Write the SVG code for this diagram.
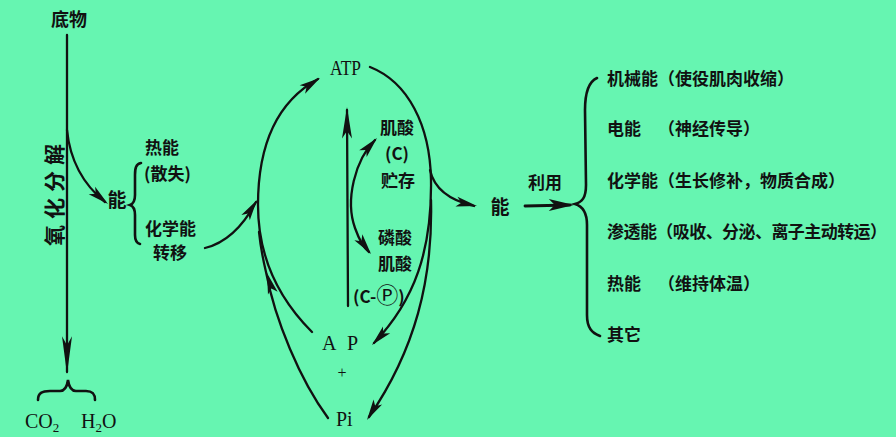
<svg xmlns="http://www.w3.org/2000/svg" xmlns:xlink="http://www.w3.org/1999/xlink" width="896" height="437" viewBox="0 0 896 437">
<defs>
<style>
.cn{font-family:"Noto Sans CJK SC","Noto Sans",sans-serif;font-size:17px;font-weight:bold;fill:#111;}
.lat{font-family:"Liberation Serif",serif;font-size:20px;fill:#111;}
.ln{fill:none;stroke:#111;stroke-width:2.3;stroke-linecap:round;}
.br{fill:none;stroke:#111;stroke-width:2.6;stroke-linecap:round;}
.ah{fill:#111;}
</style>
<path id="ah" d="M0,0 L-21,-5 L-16,0 L-21,5 Z"/>
</defs>
<rect width="896" height="437" fill="#66F5B1"/>

<g id="connectors">
  <!-- substrate oxidation -->
  <path class="ln" d="M67,35 L67,372"/>
  <use class="ah" xlink:href="#ah" transform="translate(67,374) rotate(90) scale(1.8,1)"/>
  <path class="ln" d="M67,130 C70,160 84,185 105,202"/>
  <use class="ah" xlink:href="#ah" transform="translate(108,204) rotate(40)"/>
  <!-- chemical energy transfer to ATP -->
  <path class="ln" d="M205,248 C225,243 242,228 256,202"/>
  <use class="ah" xlink:href="#ah" transform="translate(257,200) rotate(-57)"/>
  <!-- ADP -> ATP -->
  <path class="ln" d="M312,332 C285,305 258,265 258,205 C258,140 280,100 318,79"/>
  <use class="ah" xlink:href="#ah" transform="translate(320,78) rotate(-33)"/>
  <!-- Pi -> ATP -->
  <path class="ln" d="M328,418 C300,380 275,320 266,272 C262,255 260,242 259,232"/>
  <use class="ah" xlink:href="#ah" transform="translate(267,273) rotate(-106)"/>
  <!-- ATP -> ADP -->
  <path class="ln" d="M370,67 C408,82 430,125 431,180 C432,250 415,300 374,343"/>
  <use class="ah" xlink:href="#ah" transform="translate(372,345) rotate(134)"/>
  <!-- ATP -> Pi -->
  <path class="ln" d="M431,200 C433,280 415,350 369,417"/>
  <use class="ah" xlink:href="#ah" transform="translate(367,420) rotate(121)"/>
  <!-- ATP -> energy -->
  <path class="ln" d="M430,170 C434,188 448,200 474,206"/>
  <use class="ah" xlink:href="#ah" transform="translate(477,206) rotate(12)"/>
  <!-- phosphocreatine -> ATP -->
  <path class="ln" d="M348,306 L347,110"/>
  <use class="ah" xlink:href="#ah" transform="translate(347,107) rotate(-90) scale(1.5,1)"/>
  <!-- creatine <-> phosphocreatine -->
  <path class="ln" d="M375,140 C355,160 345,200 355,228 C360,242 365,249 369,252"/>
  <use class="ah" xlink:href="#ah" transform="translate(377,138) rotate(-48)"/>
  <use class="ah" xlink:href="#ah" transform="translate(371,254) rotate(53)"/>
  <!-- energy -> utilization -->
  <path class="ln" d="M525,206 L570,205" style="stroke-width:2.8"/>
  <use class="ah" xlink:href="#ah" transform="translate(574,205) rotate(0) scale(1.2,1.2)"/>
  <!-- braces -->
  <path class="br" d="M38,400 C38,393 42,391 50,391 L60,391 C65,391 67,387 68,380 C69,387 71,391 76,391 L86,391 C93,391 95,394 95,400"/>
  <path class="br" d="M141,163 C136,164 135,168 135,175 L135,195 C135,201 133,204 130,205 C133,206 135,209 135,215 L135,235 C135,240 136,243 140,244"/>
  <path class="br" d="M597,78 C588,82 585,95 585,110 L586,185 C586,198 582,202 575,204 C582,206 587,212 587,225 L587,315 C587,328 592,333 600,336"/>
</g>

<g id="substrate"><text class="cn" x="69" y="26" text-anchor="middle" style="font-size:18px">底物</text></g>
<g id="oxidation"><text class="cn" x="55" y="202" text-anchor="middle" style="font-size:21px" textLength="102" transform="rotate(-90 55 195)">氧化分解</text></g>
<g id="products">
  <text class="lat" x="25" y="428">CO<tspan font-size="13" dy="4">2</tspan></text>
  <text class="lat" x="81" y="428">H<tspan font-size="13" dy="4">2</tspan><tspan dy="-4">O</tspan></text>
</g>
<g id="energy-left"><text class="cn" x="117" y="207" text-anchor="middle" style="font-size:19px">能</text></g>
<g id="heat">
  <text class="cn" x="145" y="154">热能</text>
  <text class="cn" x="144" y="180">(散失)</text>
</g>
<g id="chem-transfer">
  <text class="cn" x="145" y="235">化学能</text>
  <text class="cn" x="153" y="259">转移</text>
</g>
<g id="ATP"><text class="lat" x="330" y="75" textLength="31" lengthAdjust="spacingAndGlyphs">ATP</text></g>
<g id="creatine">
  <text class="cn" x="397" y="134" text-anchor="middle">肌酸</text>
  <text class="cn" x="397" y="160" text-anchor="middle">(C)</text>
  <text class="cn" x="398" y="187" text-anchor="middle">贮存</text>
</g>
<g id="phosphocreatine">
  <text class="cn" x="395" y="244" text-anchor="middle">磷酸</text>
  <text class="cn" x="395" y="270" text-anchor="middle">肌酸</text>
  <text class="cn" x="353" y="303">(C-<tspan style="font-size:22px;font-weight:normal">Ⓟ</tspan>)</text>
</g>
<g id="ADP">
  <text class="lat" x="322" y="350">A</text>
  <text class="lat" x="347" y="350">P</text>
  <text class="lat" x="342" y="378" text-anchor="middle" style="font-size:16px">+</text>
</g>
<g id="Pi"><text class="lat" x="336" y="426">Pi</text></g>
<g id="energy-right">
  <text class="cn" x="500" y="214" text-anchor="middle" style="font-size:19px">能</text>
  <text class="cn" x="545" y="189" text-anchor="middle">利用</text>
</g>
<g id="uses">
  <text class="cn" x="607" y="85">机械能（使役肌肉收缩）</text>
  <text class="cn" x="607" y="135">电能</text>
  <text class="cn" x="658" y="135">（神经传导）</text>
  <text class="cn" x="607" y="187">化学能（生长修补，物质合成）</text>
  <text class="cn" x="607" y="238" textLength="280">渗透能（吸收、分泌、离子主动转运）</text>
  <text class="cn" x="607" y="290">热能</text>
  <text class="cn" x="658" y="290">（维持体温）</text>
  <text class="cn" x="607" y="341">其它</text>
</g>
</svg>
